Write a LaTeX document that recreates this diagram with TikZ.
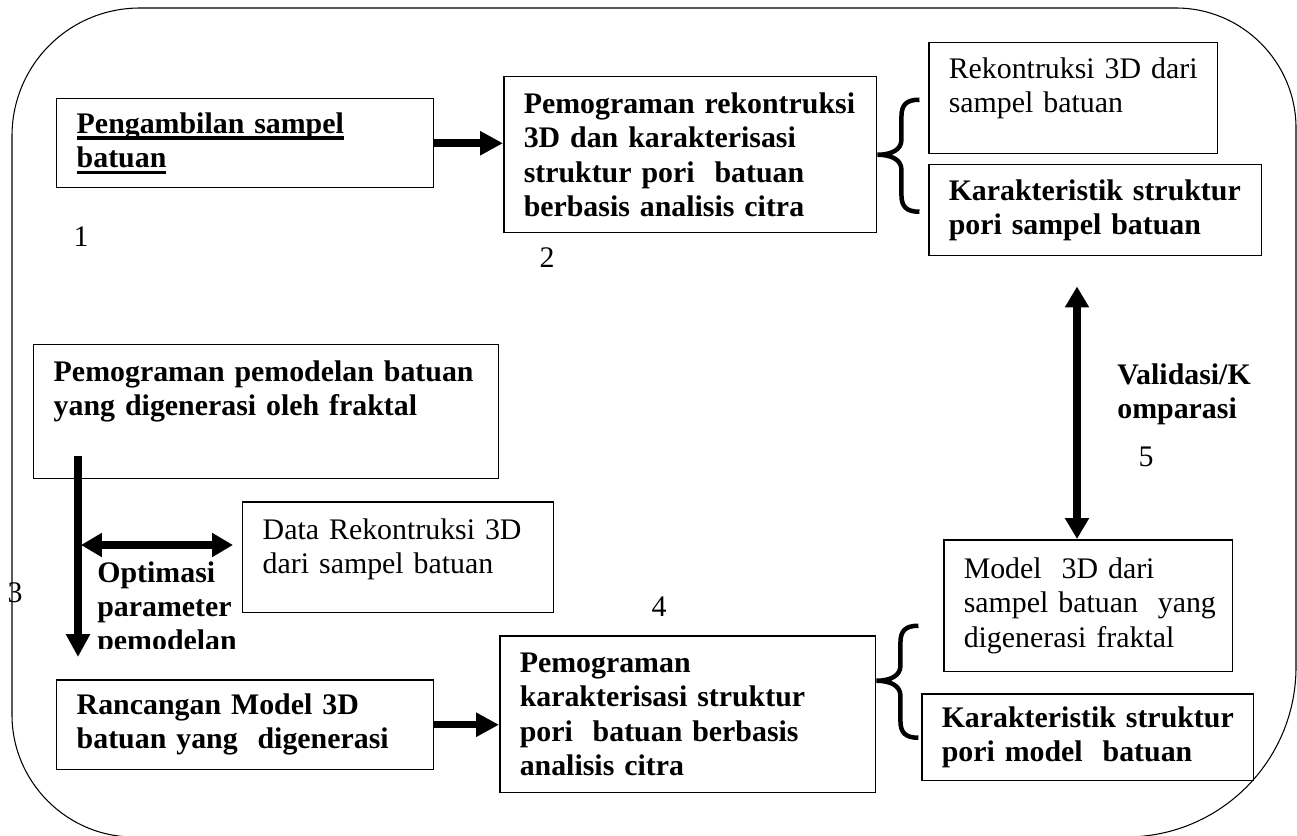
\documentclass[tikz,border=0pt]{standalone}
\usepackage{fontspec}
\setmainfont{Liberation Serif}
\usetikzlibrary{arrows.meta,positioning}

\newcommand{\sz}{\fontsize{17pt}{19.5pt}\selectfont}
\newcommand{\ulbox}[1]{\leavevmode\setbox0=\hbox{#1}\rlap{\rule[-3.6pt]{\wd0}{1.9pt}}\box0}

\tikzset{
  box/.style={draw, line width=0.85pt, anchor=north west, align=left, inner xsep=0.4cm, inner ysep=0pt, font=\sz},
  boldbox/.style={box, font=\sz\bfseries},
  num/.style={font=\sz, inner sep=0pt},
  lbl/.style={font=\sz\bfseries, align=left, inner sep=0pt, anchor=north west},
  bigarrow/.style={line width=0.15cm, -{Triangle[length=0.46cm,width=0.46cm]}},
  dblarrow/.style={line width=0.15cm, {Triangle[length=0.42cm,width=0.46cm]}-{Triangle[length=0.42cm,width=0.46cm]}},
  frame/.style={line width=0.6pt},
  pics/curly/.style={code={
    \draw[line width=0.09cm] (42,-55) .. controls (29,-55) and (24,-50) .. (24,-38) -- (24,-15)
      .. controls (24,-5) and (14,0) .. (0,0) .. controls (14,0) and (24,5) .. (24,15) -- (24,40)
      .. controls (24,52) and (29,57) .. (42,57);
  }}
}

\begin{document}
\begin{tikzpicture}[x=0.02cm, y=-0.02cm]
    \useasboundingbox (0,0) rectangle (1297,835);

    % Outer frame
    \draw[frame] (12,136) .. controls (12,65) and (69,8) .. (140,8) -- (1176,8)
      .. controls (1242,8) and (1296,62) .. (1296,128) -- (1296,667)
      .. controls (1296,761) and (1220,837) .. (1126,837) -- (134,837)
      .. controls (67,837) and (12,782) .. (12,715) -- cycle;

    % Top row
    \node[boldbox, text width=6.74cm, minimum height=1.78cm] (sampel) at (56,98) {\ulbox{Pengambilan sampel}\\\ulbox{batuan}};
    \node[boldbox, text width=6.66cm, minimum height=3.12cm] (prog) at (503,76) {\mbox{Pemograman rekontruksi}\\3D dan karakterisasi\\struktur pori~ batuan\\berbasis analisis citra};
    \node[box, text width=4.98cm, minimum height=2.22cm] (rekon) at (928,42) {\mbox{Rekontruksi 3D dari}\\sampel batuan\par\kern0.4cm};
    \node[boldbox, text width=5.86cm, minimum height=1.82cm] (karpori) at (928,164) {\mbox{Karakteristik struktur}\\pori sampel batuan};

    % Left column
    \node[boldbox, text width=8.5cm, minimum height=2.68cm] (pemodel) at (33,344) {Pemograman pemodelan batuan\\yang digenerasi oleh fraktal\par\kern0.8cm};
    \node[box, text width=5.42cm, minimum height=2.22cm] (data) at (242,501) {Data Rekontruksi 3D\\dari sampel batuan\par\kern0.32cm};
    \node[boldbox, text width=6.74cm, minimum height=1.8cm] (rancang) at (56,679) {Rancangan Model 3D\\batuan yang~ digenerasi};

    % Bottom row
    \node[boldbox, text width=6.72cm, minimum height=3.14cm] (karak) at (499,635) {Pemograman\\karakterisasi struktur\\pori~ batuan berbasis\\analisis citra};
    \node[box, text width=4.98cm, minimum height=2.64cm] (model) at (943,539) {Model~ 3D dari\\\mbox{sampel batuan~ yang}\\digenerasi fraktal};
    \node[boldbox, text width=5.84cm, minimum height=1.74cm] (karmod) at (921,693) {\mbox{Karakteristik struktur}\\pori model~ batuan};

    % Step numbers
    \node[num] (n1) at (81,237) {1};
    \node[num] (n2) at (547,258) {2};
    \node[num] (n3) at (15,593) {3};
    \node[num] (n4) at (659,607) {4};
    \node[num] (n5) at (1146,457) {5};

    % Arrow labels
    \node[lbl] (valid) at (1117,363) {Validasi/K\\omparasi};
    \begin{scope}
      \clip (90,550) rectangle (240,648);
      \node[lbl] (optim) at (97,561) {Optimasi\\parameter\\pemodelan};
    \end{scope}

    % Arrows
    \draw[bigarrow] (sampel.east) -- (sampel.east -| prog.west);
    \draw[bigarrow] (rancang.east) -- (rancang.east -| karak.west);
    \coordinate (optstart) at (78,456);
    \draw[bigarrow, shorten >=0.44cm] (optstart) -- (optstart |- rancang.north);
    \coordinate (optmid) at (81,545);
    \draw[dblarrow, shorten >=0.18cm] (optmid) -- (optmid -| data.west);
    \coordinate (valx) at (1077,0);
    \draw[dblarrow, shorten <=0.6cm] (valx |- karpori.south) -- (valx |- model.north);

    % Braces
    \pic at (prog.east) {curly};
    \pic at ([yshift=0.67cm]karak.east) {curly};
\end{tikzpicture}
\end{document}
